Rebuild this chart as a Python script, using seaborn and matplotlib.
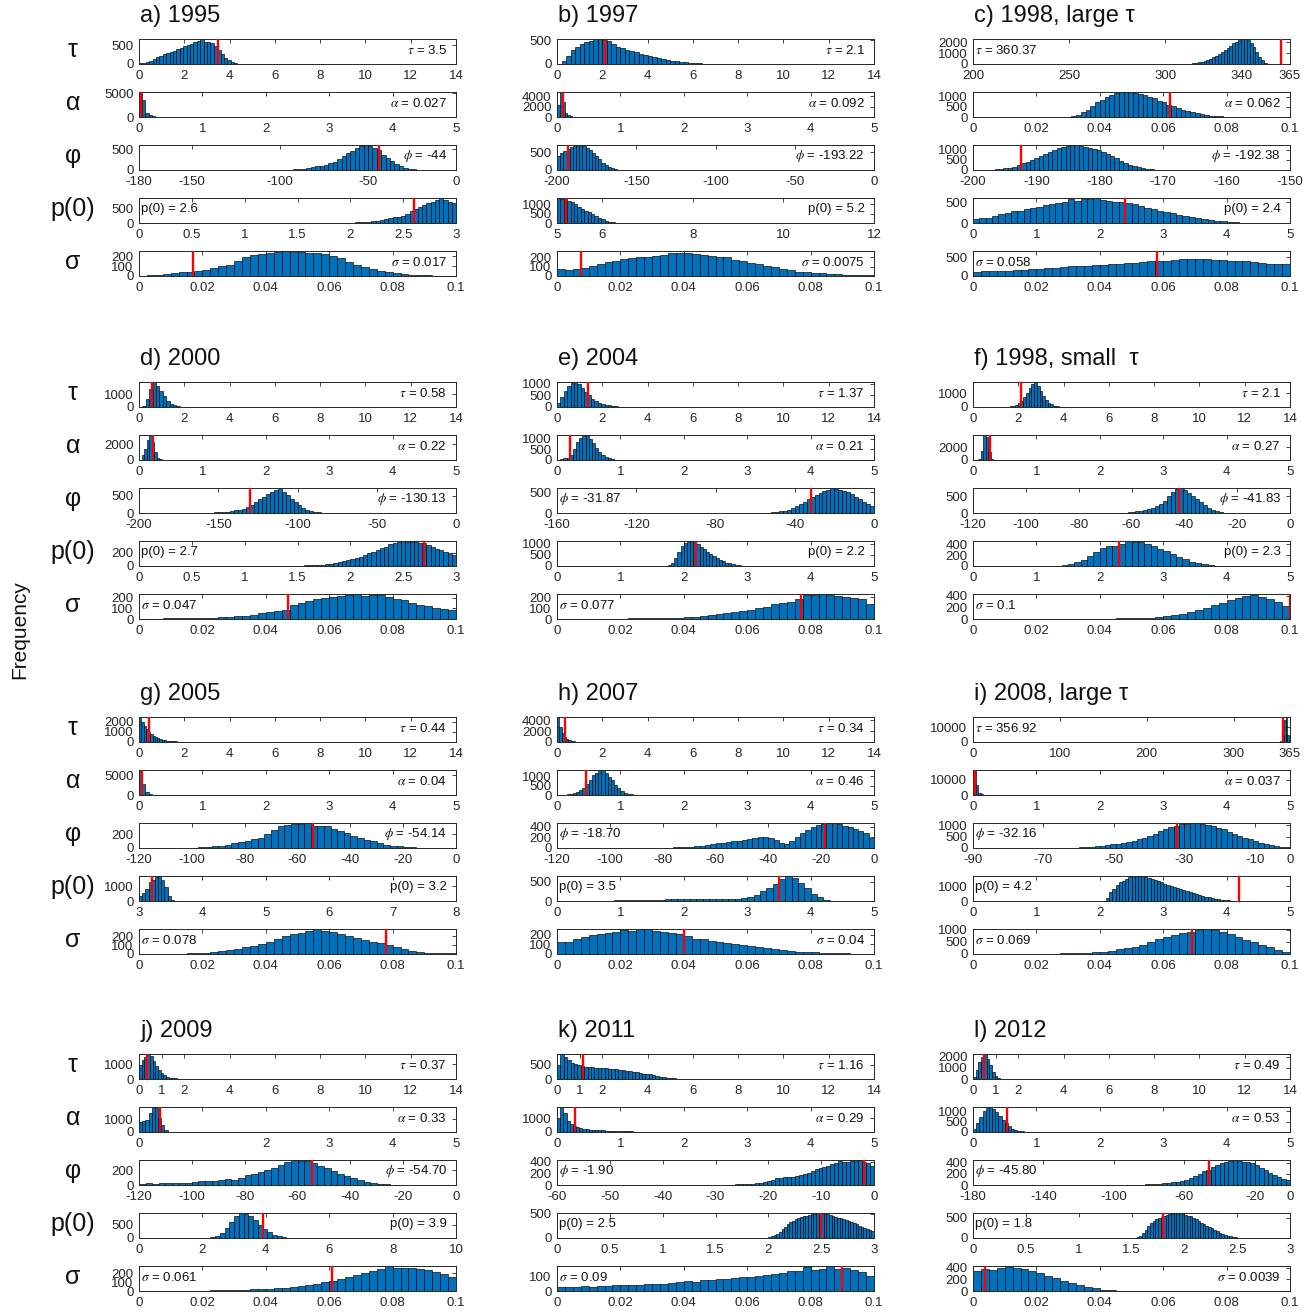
import numpy as np
import pandas as pd
import matplotlib
matplotlib.use("Agg")
import matplotlib.pyplot as plt
import seaborn as sns

# ---------------------------------------------------------------------------
# Posterior sample histograms: bin counts per parameter, bin range (lo, hi),
# y-axis top, the reported value (red line) and which side its label sits on.
# ---------------------------------------------------------------------------

# a) 1995
tau_a = [25, 40, 60, 90, 130, 175, 220, 260, 300, 330, 360, 390, 430, 470, 500, 540,
         580, 620, 660, 600, 580, 560, 470, 380, 270, 170, 100, 55, 30, 12, 5]
alpha_a = [5200, 3500, 950, 350, 150, 70, 30, 15, 5]
phi_a = [5, 8, 12, 18, 25, 35, 50, 65, 85, 105, 130, 160, 200, 260, 330, 400, 460, 520,
         570, 600, 580, 540, 470, 370, 290, 210, 150, 100, 60, 35, 15, 5]
p0_a = [2, 3, 5, 7, 10, 14, 18, 24, 32, 42, 55, 75, 100, 130, 160, 190, 220, 250, 310,
        400, 480, 560, 620, 680, 730, 790, 850, 780, 720, 670]
sigma_a = [5, 10, 15, 22, 30, 38, 45, 55, 65, 80, 100, 115, 150, 190, 220, 230, 240, 245,
           252, 248, 245, 238, 232, 222, 205, 180, 140, 115, 95, 70, 55, 42, 32, 22, 14,
           10, 6, 4, 3, 2]
bins_a = [(0, 4.65), (0, 0.45), (-100, -20), (1.8, 3.0), (0, 0.1)]
ytop_a = [670, 5300, 600, 850, 256]
value_a = ["3.5", "0.027", "-44", "2.6", "0.017"]
side_a = "RRRLR"

# b) 1997
tau_b = [10, 60, 160, 290, 370, 430, 470, 495, 520, 530, 515, 480, 420, 370, 330, 300,
         280, 250, 220, 195, 175, 150, 130, 110, 90, 70, 55, 42, 32, 24, 17, 12, 8, 6,
         4, 3, 2, 2, 1, 1]
alpha_b = [2400, 4800, 2800, 800, 300, 150, 80, 40, 20, 10, 5]
phi_b = [380, 470, 540, 590, 640, 670, 690, 700, 680, 630, 560, 480, 390, 300, 210, 140,
         80, 45, 20, 8]
p0_b = [1350, 1320, 1280, 1190, 1110, 1000, 890, 780, 675, 580, 470, 365, 270, 190, 120,
        80, 47, 27, 14, 7]
sigma_b = [73, 68, 78, 86, 110, 126, 155, 163, 186, 190, 203, 205, 219, 224, 246, 250,
           244, 240, 224, 219, 205, 203, 175, 165, 140, 130, 105, 92, 74, 64, 47, 40, 30,
           28, 21, 20, 15, 15, 10, 9]
bins_b = [(0, 8), (0, 0.44), (-200, -160), (5.0, 6.5), (0, 0.1)]
ytop_b = [530, 4800, 700, 1350, 270]
value_b = ["2.1", "0.092", "-193.22", "5.2", "0.0075"]
side_b = "RRRRR"

# c) 1998, large tau
tau_c = [12, 12, 23, 23, 35, 46, 69, 115, 161, 230, 322, 414, 506, 621, 759, 920, 1104,
         1288, 1472, 1702, 1909, 2070, 2208, 2277, 2300, 2185, 1978, 1610, 1150, 690,
         345, 138, 46, 12]
alpha_c = [0, 12, 49, 110, 220, 366, 537, 708, 854, 976, 1074, 1147, 1196, 1220, 1196,
           1171, 1135, 1074, 1000, 903, 805, 708, 610, 525, 451, 366, 293, 232, 183, 134,
           98, 73, 49, 37, 24, 18, 12, 9, 6, 4]
phi_c = [12, 25, 38, 62, 88, 125, 175, 250, 338, 412, 500, 625, 725, 825, 925, 1000,
         1088, 1150, 1212, 1250, 1238, 1225, 1175, 1112, 1050, 1000, 900, 812, 700, 588,
         475, 375, 262, 188, 138, 88, 62, 38, 19, 12]
p0_c = [102, 114, 132, 180, 216, 252, 288, 300, 330, 360, 390, 432, 468, 492, 516, 570,
        540, 588, 576, 600, 558, 540, 516, 504, 480, 450, 408, 372, 336, 300, 264, 234,
        204, 174, 144, 120, 96, 78, 60, 42, 30, 18, 9, 5]
sigma_c = [112, 125, 132, 139, 145, 152, 165, 178, 191, 211, 218, 238, 251, 264, 277,
           290, 297, 317, 330, 343, 356, 370, 383, 396, 409, 422, 436, 449, 442, 436,
           429, 416, 409, 396, 383, 363, 343, 330, 323, 317]
bins_c = [(305, 356), (0.028, 0.088), (-198, -170), (0, 4.4), (0, 0.1)]
ytop_c = [2300, 1220, 1250, 600, 660]
value_c = ["360.37", "0.062", "-192.38", "2.4", "0.058"]
side_c = "LRRRL"

# d) 2000
tau_d = [39, 585, 1365, 1950, 1658, 1209, 819, 468, 234, 117, 59, 29, 16, 8, 4]
alpha_d = [640, 1440, 2560, 3200, 2240, 960, 320, 128, 48, 16]
phi_d = [7, 15, 22, 29, 44, 59, 74, 96, 125, 169, 243, 331, 412, 485, 551, 625, 684, 735,
         632, 529, 419, 316, 221, 147, 88, 51, 29, 15]
p0_d = [2, 3, 4, 6, 8, 10, 11, 15, 19, 27, 34, 46, 57, 72, 87, 103, 122, 144, 167, 190,
        213, 236, 266, 296, 327, 350, 365, 380, 372, 369, 361, 353, 342, 312, 285, 258,
        236, 209, 190, 171]
sigma_d = [2, 2, 4, 5, 5, 6, 7, 9, 12, 14, 16, 21, 24, 31, 40, 52, 63, 71, 89, 129, 148,
           165, 188, 200, 207, 212, 223, 235, 219, 223, 228, 207, 188, 176, 155, 136, 118,
           103, 94, 80]
bins_d = [(0.15, 2.4), (0.04, 0.44), (-155, -85), (1.4, 3.0), (0, 0.1)]
ytop_d = [1950, 3200, 735, 380, 235]
value_d = ["0.58", "0.22", "-130.13", "2.7", "0.047"]
side_d = "RRRLL"

# e) 2004
tau_e = [162, 432, 702, 918, 1048, 1080, 972, 821, 648, 497, 367, 270, 194, 140, 97, 65,
         43, 27, 16, 11, 6, 3]
alpha_e = [12, 35, 71, 118, 236, 531, 826, 1038, 1145, 1180, 1003, 779, 555, 378, 236,
           142, 71, 35, 18, 6]
phi_e = [3, 6, 9, 12, 18, 30, 42, 60, 84, 120, 162, 210, 270, 330, 384, 438, 480, 522,
         558, 600, 582, 564, 540, 504, 450, 390, 330, 270, 228, 180]
p0_e = [11, 45, 136, 339, 622, 904, 1051, 1096, 1130, 1074, 983, 881, 768, 655, 542, 452,
        362, 283, 215, 158, 113, 79, 51, 34, 17, 9]
sigma_e = [0, 0, 0, 1, 1, 2, 2, 3, 3, 5, 6, 7, 8, 9, 10, 12, 16, 21, 28, 37, 46, 53, 62,
           71, 83, 97, 115, 138, 150, 161, 184, 219, 223, 230, 219, 214, 207, 196, 184, 138]
bins_e = [(0, 3.3), (0, 1.0), (-60, 0), (1.7, 3.0), (0, 0.1)]
ytop_e = [1080, 1180, 600, 1130, 230]
value_e = ["1.37", "0.21", "-31.87", "2.2", "0.077"]
side_e = "RRLRL"

# f) 1998, small tau
tau_f = [19, 37, 74, 148, 278, 462, 740, 1054, 1388, 1702, 1850, 1572, 1147, 777, 518,
         314, 185, 92, 56, 28, 15]
alpha_f = [200, 1400, 4000, 3600, 1200, 240, 80, 20]
phi_f = [8, 11, 15, 22, 38, 52, 68, 90, 120, 158, 202, 285, 375, 510, 638, 720, 750, 698,
         615, 525, 428, 330, 240, 165, 98, 52, 22, 8]
p0_f = [5, 9, 18, 37, 69, 115, 175, 253, 322, 359, 377, 405, 460, 446, 437, 405, 359, 313,
        267, 216, 166, 120, 78, 46, 28, 16, 9, 5]
sigma_f = [0, 0, 0, 0, 0, 0, 0, 0, 1, 1, 2, 2, 3, 3, 4, 5, 6, 8, 9, 11, 15, 19, 25, 34, 46,
           63, 84, 113, 155, 193, 235, 281, 328, 357, 399, 420, 378, 344, 294, 231]
bins_f = [(1.5, 4.02), (0.08, 0.4), (-66, -24), (1.2, 4.0), (0, 0.1)]
ytop_f = [1850, 4000, 750, 460, 430]
value_f = ["2.1", "0.27", "-41.83", "2.3", "0.1"]
side_f = "RRRRL"

# g) 2005
tau_g = [2500, 2050, 1650, 1325, 1050, 825, 650, 500, 400, 300, 238, 188, 150, 118, 90,
         70, 52, 40, 30, 20, 12, 8]
alpha_g = [6300, 2650, 820, 315, 126, 63, 32]
phi_g = [4, 5, 7, 11, 18, 25, 36, 47, 72, 86, 108, 126, 151, 198, 259, 317, 335, 342, 349,
         360, 317, 310, 324, 274, 245, 216, 180, 151, 119, 94, 68, 50, 36, 25, 16, 11, 7, 4]
p0_g = [340, 561, 850, 1275, 1445, 1615, 1700, 1445, 935, 374, 85, 17]
sigma_g = [0, 1, 2, 3, 3, 4, 7, 11, 14, 19, 33, 47, 60, 77, 88, 110, 138, 171, 206, 226,
           239, 253, 275, 253, 242, 226, 206, 176, 154, 138, 124, 105, 83, 55, 36, 22, 16,
           11, 8, 6]
bins_g = [(0, 2.2), (0, 0.35), (-105, -10), (3.0, 3.6), (0, 0.1)]
ytop_g = [2500, 6300, 360, 1700, 280]
value_g = ["0.44", "0.04", "-54.14", "3.2", "0.078"]
side_g = "RRRRL"

# h) 2007
tau_h = [4600, 2760, 1610, 920, 552, 322, 207, 138, 92, 60, 41, 28, 18, 14, 9]
alpha_h = [7, 13, 26, 40, 66, 106, 172, 264, 396, 594, 818, 1030, 1188, 1320, 1294, 1162,
           950, 766, 554, 396, 224, 119, 66, 33, 16, 7]
phi_h = [2, 2, 4, 5, 6, 7, 9, 14, 19, 24, 28, 38, 47, 56, 71, 85, 99, 118, 132, 141, 155,
         169, 188, 202, 212, 188, 150, 103, 71, 141, 212, 273, 338, 400, 432, 446, 470,
         461, 446, 423, 400, 352, 320, 282, 188]
p0_h = [3, 5, 7, 10, 13, 16, 20, 23, 26, 29, 33, 36, 39, 43, 46, 46, 49, 49, 46, 49, 46,
        46, 49, 52, 59, 72, 98, 164, 249, 341, 445, 576, 655, 603, 472, 328, 196, 92, 33, 10]
sigma_h = [130, 130, 151, 177, 195, 208, 221, 234, 247, 242, 255, 260, 242, 234, 221, 208,
           187, 161, 151, 135, 125, 114, 104, 91, 83, 73, 62, 52, 42, 34, 26, 21, 16, 13,
           10, 8, 6, 5, 4, 3]
bins_h = [(0, 1.5), (0, 1.3), (-90, 0), (0.4, 4.4), (0, 0.1)]
ytop_h = [4600, 1320, 470, 655, 260]
value_h = ["0.34", "0.46", "-18.70", "3.5", "0.04"]
side_h = "RRLLR"

# i) 2008, large tau
tau_i = [850, 4250, 15300, 17000, 5100]
alpha_i = [16500, 6600, 1650, 660, 248, 99]
phi_i = [6, 9, 13, 20, 28, 39, 55, 88, 110, 132, 165, 198, 220, 275, 330, 385, 462, 550,
         638, 748, 858, 935, 990, 1045, 1067, 1100, 1089, 1078, 1023, 968, 902, 825, 726,
         638, 550, 462, 385, 308, 242, 187, 132, 88, 55, 33]
p0_i = [200, 585, 835, 1052, 1236, 1369, 1503, 1586, 1637, 1670, 1653, 1637, 1586, 1536,
        1470, 1403, 1336, 1252, 1169, 1102, 1035, 952, 868, 802, 735, 668, 601, 534, 468,
        401, 334, 284, 234, 200, 167, 134, 100, 75, 50, 33, 20, 10]
sigma_i = [0, 0, 0, 2, 3, 4, 5, 7, 10, 12, 16, 21, 26, 36, 52, 68, 94, 135, 208, 260, 312,
           395, 520, 624, 728, 811, 884, 936, 1009, 1040, 988, 936, 832, 728, 603, 489, 364,
           281, 187, 104]
bins_i = [(354, 364), (0, 0.24), (-66, 0), (2.1, 4.2), (0, 0.1)]
ytop_i = [17000, 16500, 1100, 1670, 1040]
value_i = ["356.92", "0.037", "-32.16", "4.2", "0.069"]
side_i = "LRLLL"

# j) 2009
tau_j = [930, 1268, 1521, 1690, 1555, 1217, 879, 608, 406, 254, 152, 93, 59, 34, 20, 12,
         7, 3]
alpha_j = [780, 839, 975, 1463, 1950, 1853, 1073, 585, 156, 39, 10]
phi_j = [20, 24, 20, 27, 24, 27, 31, 34, 41, 48, 54, 58, 68, 75, 71, 95, 136, 156, 177,
         204, 238, 272, 313, 340, 333, 323, 299, 265, 231, 194, 156, 122, 92, 65, 44, 27,
         17, 10, 5, 3]
p0_j = [9, 28, 74, 186, 372, 605, 818, 930, 902, 809, 670, 502, 344, 214, 121, 65, 33, 14,
        7, 3]
sigma_j = [0, 0, 1, 1, 2, 2, 3, 4, 5, 6, 7, 9, 11, 14, 17, 19, 25, 30, 36, 44, 55, 66, 83,
           96, 116, 132, 154, 179, 206, 226, 248, 275, 259, 261, 253, 248, 237, 215, 187,
           160]
bins_j = [(0, 2.16), (0, 0.55), (-120, -20), (2.1, 5.1), (0, 0.1)]
ytop_j = [1690, 1950, 340, 930, 280]
value_j = ["0.37", "0.33", "-54.70", "3.9", "0.061"]
side_j = "RRRRL"

# k) 2011
tau_k = [479, 870, 766, 653, 574, 522, 479, 452, 435, 418, 409, 400, 392, 383, 374, 365,
         357, 339, 322, 305, 287, 270, 252, 235, 218, 191, 174, 157, 139, 113, 87, 70, 52,
         39, 26, 17, 11, 7, 4, 3]
alpha_k = [990, 1800, 1350, 810, 594, 468, 360, 270, 234, 198, 180, 162, 144, 126, 117,
           108, 90, 81, 72, 65, 58, 50, 45, 40, 36, 31, 27, 23, 20, 18, 14, 13, 11, 9, 7, 5,
           5, 4, 4, 2]
phi_k = [2, 3, 4, 5, 6, 9, 11, 13, 17, 22, 30, 39, 52, 65, 86, 112, 129, 138, 142, 142,
         151, 172, 194, 215, 245, 271, 292, 310, 335, 357, 378, 409, 400, 396, 409, 417,
         430, 396, 370, 335]
p0_k = [15, 31, 61, 92, 133, 179, 230, 281, 321, 357, 388, 418, 439, 449, 459, 474, 485,
        495, 510, 500, 495, 500, 485, 469, 459, 439, 418, 408, 388, 367, 347, 326, 306, 281,
        255, 235, 214, 189, 163, 138]
sigma_k = [27, 25, 30, 36, 32, 39, 36, 45, 41, 46, 43, 50, 53, 48, 59, 62, 68, 64, 75, 80,
           85, 82, 93, 98, 103, 110, 116, 121, 128, 139, 142, 169, 151, 157, 178, 160, 164,
           151, 134, 110]
bins_k = [(0, 6.0), (0, 2.0), (-30, 0), (2.0, 3.0), (0, 0.1)]
ytop_k = [870, 1800, 430, 515, 178]
value_k = ["1.16", "0.29", "-1.90", "2.5", "0.09"]
side_k = "RRLLL"

# l) 2012
tau_l = [225, 788, 1530, 2025, 2250, 1845, 1238, 675, 293, 113, 45, 18, 7]
alpha_l = [144, 420, 720, 1020, 1164, 1200, 1104, 960, 780, 600, 432, 288, 168, 96, 54, 30,
           14, 6]
phi_l = [1, 2, 3, 5, 5, 7, 9, 11, 14, 18, 23, 29, 38, 50, 63, 81, 99, 135, 171, 207, 248,
         279, 324, 360, 392, 414, 432, 450, 432, 423, 414, 396, 360, 315, 270, 225, 180, 144,
         117, 90]
p0_l = [3, 6, 18, 61, 122, 201, 293, 366, 427, 470, 488, 512, 537, 561, 580, 586, 598, 610,
        604, 586, 573, 549, 525, 494, 464, 421, 378, 342, 305, 268, 232, 195, 165, 134, 104,
        79, 61, 43, 31, 21, 12, 7, 4, 2]
sigma_l = [344, 370, 365, 391, 420, 403, 378, 336, 302, 260, 218, 176, 139, 105, 71, 46, 25,
           15, 8, 5, 3, 2, 2, 1, 1, 1, 0, 0, 0, 0, 0, 0, 0, 0, 0, 0, 0, 0, 0, 0]
bins_l = [(0, 1.56), (0, 0.9), (-100, 0), (1.5, 2.6), (0, 0.1)]
ytop_l = [2250, 1200, 450, 610, 430]
value_l = ["0.49", "0.53", "-45.80", "1.8", "0.0039"]
side_l = "RRLLR"

# Axis limits and tick values
TAU14 = ((0, 14), [0, 2, 4, 6, 8, 10, 12, 14])
TAU14B = ((0, 14), [0, 1, 2, 4, 6, 8, 10, 12, 14])
ALPHA5 = ((0, 5), [0, 1, 2, 3, 4, 5])
SIG = ((0, 0.1), [0, 0.02, 0.04, 0.06, 0.08, 0.1])
P03 = ((0, 3), [0, 0.5, 1, 1.5, 2, 2.5, 3])
P05 = ((0, 5), [0, 1, 2, 3, 4, 5])
PHI120 = ((-120, 0), [-120, -100, -80, -60, -40, -20, 0])

xaxes_a = [TAU14, ALPHA5, ((-180, 0), [-180, -150, -100, -50, 0]), P03, SIG]
xaxes_b = [TAU14, ALPHA5, ((-200, 0), [-200, -150, -100, -50, 0]), ((5, 12), [5, 6, 8, 10, 12]), SIG]
xaxes_c = [((200, 365), [200, 250, 300, 340, 365]), ((0, 0.1), [0, 0.02, 0.04, 0.06, 0.08, 0.1]),
           ((-200, -150), [-200, -190, -180, -170, -160, -150]), P05, SIG]
xaxes_d = [TAU14, ALPHA5, ((-200, 0), [-200, -150, -100, -50, 0]), P03, SIG]
xaxes_e = [TAU14, ALPHA5, ((-160, 0), [-160, -120, -80, -40, 0]), P05, SIG]
xaxes_f = [TAU14, ALPHA5, PHI120, P05, SIG]
xaxes_g = [TAU14, ALPHA5, PHI120, ((3, 8), [3, 4, 5, 6, 7, 8]), SIG]
xaxes_h = [TAU14, ALPHA5, PHI120, P05, SIG]
xaxes_i = [((0, 365), [0, 100, 200, 300, 365]), ALPHA5, ((-90, 0), [-90, -70, -50, -30, -10, 0]), P05, SIG]
xaxes_j = [TAU14B, ALPHA5, PHI120, ((0, 10), [0, 2, 4, 6, 8, 10]), SIG]
xaxes_k = [TAU14B, ALPHA5, ((-60, 0), [-60, -50, -40, -30, -20, -10, 0]), P03, SIG]
xaxes_l = [TAU14B, ALPHA5, ((-180, 0), [-180, -140, -100, -60, -20, 0]), P03, SIG]

yticks_a = [[0, 500], [0, 5000], [0, 500], [0, 500], [0, 100, 200]]
yticks_b = [[0, 500], [0, 2000, 4000], [0, 500], [0, 500, 1000], [0, 100, 200]]
yticks_c = [[0, 1000, 2000], [0, 500, 1000], [0, 500, 1000], [0, 500], [0, 500]]
yticks_d = [[0, 1000], [0, 2000], [0, 500], [0, 200], [0, 100, 200]]
yticks_e = [[0, 500, 1000], [0, 500, 1000], [0, 500], [0, 500, 1000], [0, 100, 200]]
yticks_f = [[0, 1000], [0, 2000], [0, 500], [0, 200, 400], [0, 200, 400]]
yticks_g = [[0, 1000, 2000], [0, 5000], [0, 200], [0, 1000], [0, 100, 200]]
yticks_h = [[0, 2000, 4000], [0, 500, 1000], [0, 200, 400], [0, 500], [0, 100, 200]]
yticks_i = [[0, 10000], [0, 10000], [0, 500, 1000], [0, 1000], [0, 500, 1000]]
yticks_j = [[0, 1000], [0, 1000], [0, 200], [0, 500], [0, 100, 200]]
yticks_k = [[0, 500], [0, 1000], [0, 200, 400], [0, 500], [0, 100]]
yticks_l = [[0, 1000, 2000], [0, 500, 1000], [0, 200, 400], [0, 500], [0, 200, 400]]

titles = ["a) 1995", "b) 1997", "c) 1998, large τ",
          "d) 2000", "e) 2004", "f) 1998, small  τ",
          "g) 2005", "h) 2007", "i) 2008, large τ",
          "j) 2009", "k) 2011", "l) 2012"]

row_names = ["τ", "α", "φ", "p(0)", "σ"]
symbols = [r"$\tau$", r"$\alpha$", r"$\phi$", "p(0)", r"$\sigma$"]

panels = [
    ([tau_a, alpha_a, phi_a, p0_a, sigma_a], bins_a, ytop_a, value_a, side_a, xaxes_a, yticks_a),
    ([tau_b, alpha_b, phi_b, p0_b, sigma_b], bins_b, ytop_b, value_b, side_b, xaxes_b, yticks_b),
    ([tau_c, alpha_c, phi_c, p0_c, sigma_c], bins_c, ytop_c, value_c, side_c, xaxes_c, yticks_c),
    ([tau_d, alpha_d, phi_d, p0_d, sigma_d], bins_d, ytop_d, value_d, side_d, xaxes_d, yticks_d),
    ([tau_e, alpha_e, phi_e, p0_e, sigma_e], bins_e, ytop_e, value_e, side_e, xaxes_e, yticks_e),
    ([tau_f, alpha_f, phi_f, p0_f, sigma_f], bins_f, ytop_f, value_f, side_f, xaxes_f, yticks_f),
    ([tau_g, alpha_g, phi_g, p0_g, sigma_g], bins_g, ytop_g, value_g, side_g, xaxes_g, yticks_g),
    ([tau_h, alpha_h, phi_h, p0_h, sigma_h], bins_h, ytop_h, value_h, side_h, xaxes_h, yticks_h),
    ([tau_i, alpha_i, phi_i, p0_i, sigma_i], bins_i, ytop_i, value_i, side_i, xaxes_i, yticks_i),
    ([tau_j, alpha_j, phi_j, p0_j, sigma_j], bins_j, ytop_j, value_j, side_j, xaxes_j, yticks_j),
    ([tau_k, alpha_k, phi_k, p0_k, sigma_k], bins_k, ytop_k, value_k, side_k, xaxes_k, yticks_k),
    ([tau_l, alpha_l, phi_l, p0_l, sigma_l], bins_l, ytop_l, value_l, side_l, xaxes_l, yticks_l),
]

# ---------------------------------------------------------------------------
# Styling
# ---------------------------------------------------------------------------
sns.set_theme(style="white")
plt.rcParams["font.family"] = ["Liberation Sans", "DejaVu Sans"]
plt.rcParams["mathtext.fontset"] = "stix"

BAR = "#0072BD"
INK = "#262626"

W, H = 1315, 1314
COL_LEFT = [139, 557, 973]
AX_W = 317
AX_H = 25
GROUP_TOP = [39, 382, 717, 1054]
ROW_OFF = [0, 53, 106, 159, 212]

fig = plt.figure(figsize=(W / 100, H / 100), dpi=100)
fig.patch.set_facecolor("white")


def fmt(v):
    return f"{v:g}"


for p_idx, (counts_list, bins, ytops, values, sides, xaxes, yticks) in enumerate(panels):
    col = p_idx % 3
    grp = p_idx // 3
    left = COL_LEFT[col]
    gtop = GROUP_TOP[grp]

    fig.text((left + 1) / W, 1 - (gtop - 23) / H, titles[p_idx],
             ha="left", va="center", fontsize=17, color="#111111")

    for r in range(5):
        top = gtop + ROW_OFF[r]
        ax = fig.add_axes([left / W, 1 - (top + AX_H) / H, AX_W / W, AX_H / H])

        counts = np.asarray(counts_list[r], dtype=float)
        lo, hi = bins[r]
        edges = np.linspace(lo, hi, len(counts) + 1)
        centers = 0.5 * (edges[:-1] + edges[1:])
        frame = pd.DataFrame({"value": centers, "count": counts})
        sns.histplot(data=frame, x="value", weights="count", bins=edges.tolist(), ax=ax,
                     color=BAR, edgecolor="black", linewidth=0.45, alpha=1.0)

        mark = float(values[r])
        ax.axvline(mark, color="#FF0000", lw=1.7, zorder=5)

        (xl, xt) = xaxes[r]
        ax.set_xlim(*xl)
        ax.set_ylim(0, ytops[r])
        ax.set_xticks(xt)
        if p_idx == 9 and r == 1:
            ax.set_xticklabels([fmt(v) if v != 1 else "" for v in xt])
        else:
            ax.set_xticklabels([fmt(v) for v in xt])
        ax.set_yticks(yticks[r])
        ax.set_yticklabels([fmt(v) for v in yticks[r]])
        ax.set_xlabel("")
        ax.set_ylabel("")

        ax.tick_params(direction="in", length=3, width=0.6, top=True, right=True,
                       labelsize=9.5, colors=INK, pad=4)
        for s in ax.spines.values():
            s.set_visible(True)
            s.set_color(INK)
            s.set_linewidth(0.7)

        label = f"{symbols[r]} = {values[r]}"
        if sides[r] == "R":
            ax.text(1 - 9 / AX_W, 0.55, label, transform=ax.transAxes,
                    ha="right", va="center", fontsize=9.5, color="#111111", zorder=6)
        else:
            ax.text(2 / AX_W, 0.55, label, transform=ax.transAxes,
                    ha="left", va="center", fontsize=9.5, color="#111111", zorder=6)

        if col == 0:
            fig.text(73 / W, 1 - (top + 11) / H, row_names[r],
                     ha="center", va="center", fontsize=18, color="#111111")

fig.text(20 / W, 1 - 630 / H, "Frequency", rotation=90,
         ha="center", va="center", fontsize=15, color="#111111")

fig.savefig("out.png", dpi=100, facecolor="white")
